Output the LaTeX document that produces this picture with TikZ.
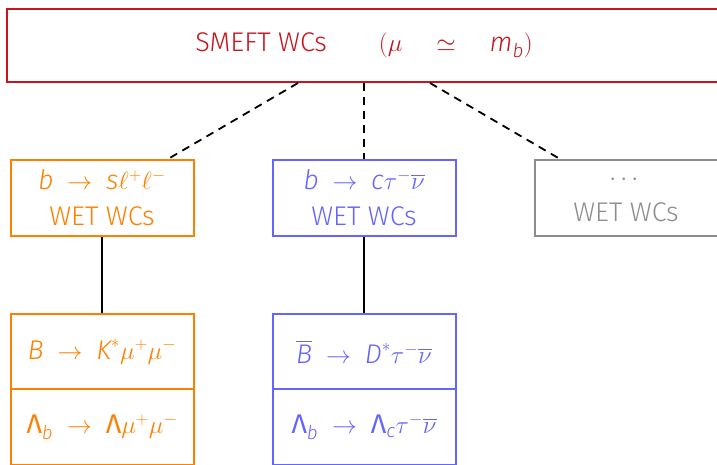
\documentclass[tikz,border=0pt]{standalone}
\usepackage{amsmath}
\usepackage{fontspec}
\setmainfont{Fira Sans}[UprightFont={* Light}, ItalicFont={* Light Italic}]
\newfontfamily\firareg{Fira Sans}
\usetikzlibrary{calc}
\definecolor{cred}{RGB}{200,20,30}
\definecolor{corange}{RGB}{255,128,0}
\definecolor{cblue}{RGB}{100,100,255}
\definecolor{cgray}{RGB}{140,140,140}
\newcommand{\mi}[1]{\text{\itshape #1}}
\newcommand{\Lam}{\text{\firareg\upshape Λ}}
\newcommand{\ra}{\;\to\;}
\tikzset{
  box/.style={draw, line width=2pt, rectangle, inner sep=0pt, align=center,
    font=\fontsize{27}{36}\selectfont},
  wbox/.style={box, minimum width=183pt, minimum height=76pt},
  dashconn/.style={draw=black, line width=1.8pt, dash pattern=on 8pt off 6pt},
  solconn/.style={draw=black, line width=1.8pt}
}
\begin{document}
\begin{tikzpicture}[x=1pt,y=-1pt]
\useasboundingbox (0,0) rectangle (717,464);
\node[box, draw=cred, text=cred, minimum width=714pt, minimum height=73pt] (top) at (364,45.5)
  {SMEFT WCs\hspace{52pt}$(\mu\quad\simeq\quad \mi{m}_{\mi{b}})$};
\node[wbox, draw=corange, text=corange] (o2) at (102,198)
  {$\mi{b}\ra\mi{s}\ell^+\ell^-$\\WET WCs};
\node[wbox, draw=cblue, text=cblue] (b2) at (364,198)
  {$\mi{b}\ra\mi{c}\tau^-\overline{\nu}$\\WET WCs};
\node[wbox, draw=cgray, text=cgray] (g2) at (626,198)
  {$\cdots$\\WET WCs};
\node[wbox, draw=corange, text=corange, minimum height=75pt] (o3) at (102,351.5)
  {$\mi{B}\ra\mi{K}^*\mu^+\mu^-$};
\node[wbox, draw=corange, text=corange] (o4) at (102,427)
  {$\Lam_{\mi{b}}\ra\Lam\mu^+\mu^-$};
\node[wbox, draw=cblue, text=cblue, minimum height=75pt] (b3) at (364,351.5)
  {$\overline{\mi{B}}\ra\mi{D}^*\tau^-\overline{\nu}$};
\node[wbox, draw=cblue, text=cblue] (b4) at (364,427)
  {$\Lam_{\mi{b}}\ra\Lam_{\mi{c}}\tau^-\overline{\nu}$};
\draw[dashconn] ($(top.south)+(-66,0)$) -- ($(o2.north)+(66,0)$);
\draw[dashconn] (top.south) -- (b2.north);
\draw[dashconn] ($(top.south)+(66,0)$) -- ($(g2.north)+(-66,0)$);
\draw[solconn] (o2.south) -- (o3.north);
\draw[solconn] (b2.south) -- (b3.north);
\end{tikzpicture}
\end{document}
